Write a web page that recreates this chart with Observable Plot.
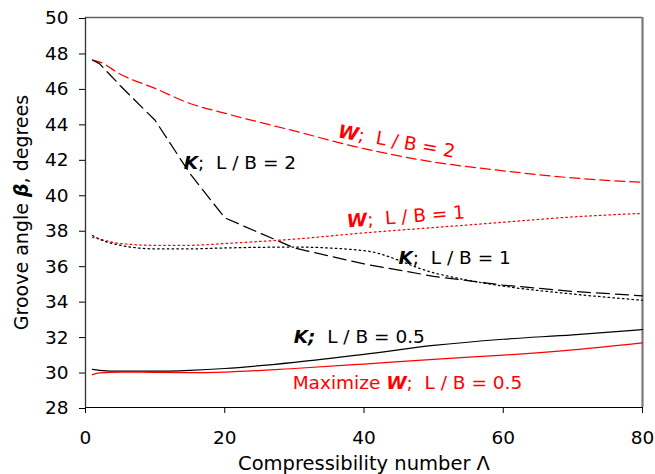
<!DOCTYPE html>
<html>
<head>
<meta charset="utf-8">
<script src="https://cdn.jsdelivr.net/npm/d3@7"></script>
<script src="https://cdn.jsdelivr.net/npm/@observablehq/plot@0.6"></script>
<style>
  body { margin: 0; background: #fff; }
  #chart svg { display: block; }
</style>
</head>
<body>
<div id="chart"></div>
<script>
// Compressibility number Λ at which the optimum groove angle was computed
const lambda = [1, 2, 5, 10, 15, 20, 30, 40, 50, 60, 70, 80];

// Optimum groove angle β (degrees) for each criterion and aspect ratio L/B
const wLB2  = [47.6, 47.5, 46.8, 46.0, 45.15, 44.6, 43.6, 42.6, 41.85, 41.35, 40.95, 40.7];
const kLB2  = [47.6, 47.4, 46.15, 44.2, 41.2, 38.7, 37.0, 36.1, 35.4, 34.9, 34.55, 34.3];
const wLB1  = [37.6, 37.5, 37.25, 37.15, 37.15, 37.25, 37.5, 37.85, 38.15, 38.45, 38.75, 38.95];
const kLB1  = [37.7, 37.5, 37.15, 36.95, 36.95, 37.0, 37.05, 36.85, 35.6, 34.85, 34.4, 34.05];
const kLB05 = [30.15, 30.1, 30.05, 30.05, 30.1, 30.2, 30.55, 31.0, 31.5, 31.85, 32.1, 32.4];
const wLB05 = [29.85, 29.95, 30.0, 29.98, 29.97, 30.0, 30.2, 30.45, 30.72, 30.95, 31.25, 31.65];

// Axis ticks
const xTicks = [0, 20, 40, 60, 80];
const yTicks = [28, 30, 32, 34, 36, 38, 40, 42, 44, 46, 48, 50];

// Curve labels; text between asterisks is set in bold italic
const labelText  = ["*K*;  L / B = 2", "*W*;  L / B = 2", "*W*;  L / B = 1", "*K*;  L / B = 1", "*K;*  L / B = 0.5", "Maximize *W*;  L / B = 0.5"];
const labelX     = [14.1, 36.15, 37.6, 44.95, 29.9, 29.75];
const labelY     = [41.45, 43.25, 38.15, 36.1, 31.62, 29.05];
const labelAngle = [0, 10, -4.5, 0, 0, 0];
const labelColor = ["#000", "#ff0000", "#ff0000", "#000", "#000", "#ff0000"];

const RED = "#ff0000";
const series = [
  {values: wLB2,  stroke: RED,    dash: "10,5",    curve: "monotone-x"},
  {values: kLB2,  stroke: "#000", dash: "13,6",    curve: "linear"},
  {values: wLB1,  stroke: RED,    dash: "1.6,3.2", curve: "monotone-x"},
  {values: kLB1,  stroke: "#000", dash: "1.6,3.2", curve: "monotone-x"},
  {values: kLB05, stroke: "#000", dash: null,      curve: "monotone-x"},
  {values: wLB05, stroke: RED,    dash: null,      curve: "monotone-x"}
];

const labels = labelText.map((text, i) => ({text, x: labelX[i], y: labelY[i], angle: labelAngle[i], color: labelColor[i]}));

const lineMarks = series.map(s =>
  Plot.line(lambda.map((x, i) => ({x, y: s.values[i]})), {
    x: "x", y: "y",
    stroke: s.stroke,
    strokeWidth: 1.25,
    strokeDasharray: s.dash,
    curve: s.curve
  })
);

const chart = Plot.plot({
  width: 655,
  height: 474,
  marginLeft: 85,
  marginRight: 13,
  marginTop: 17,
  marginBottom: 67,
  style: {fontFamily: "'DejaVu Sans', sans-serif", fontSize: "18.5px", background: "#fff", color: "#000"},
  x: {domain: [0, 80]},
  y: {domain: [28, 50]},
  marks: [
    // plot-area border (top and right)
    Plot.ruleY([50], {stroke: "#606060", strokeWidth: 1.5}),
    Plot.ruleX([80], {stroke: "#7a7a7a", strokeWidth: 2.2}),
    // axes
    Plot.axisY({ticks: yTicks, tickSize: 6, tickPadding: 11, label: null, dy: 1}),
    Plot.axisX({ticks: xTicks, tickSize: 6, tickPadding: 17, label: null}),
    Plot.ruleX([0], {stroke: "#333", strokeWidth: 1.3}),
    Plot.ruleY([28], {stroke: "#000"}),
    ...lineMarks,
    Plot.text(labels, {
      x: "x", y: "y", text: "text", fill: "color", rotate: "angle",
      textAnchor: "start", lineAnchor: "bottom"
    }),
    Plot.text(["Compressibility number Λ"], {
      frameAnchor: "bottom", textAnchor: "middle", lineAnchor: "bottom", dy: 62, fontSize: 19.5
    }),
    Plot.text(["Groove angle *β*, degrees"], {
      frameAnchor: "left", textAnchor: "middle", lineAnchor: "bottom",
      rotate: -90, dx: -58, fontSize: 19
    })
  ]
});

// Turn *…* spans into bold italic tspans
chart.querySelectorAll("text").forEach(t => {
  if (t.querySelector("tspan") || !t.textContent.includes("*")) return;
  const parts = t.textContent.split("*");
  t.textContent = "";
  t.setAttribute("xml:space", "preserve");
  t.style.whiteSpace = "pre";
  parts.forEach((p, i) => {
    if (!p) return;
    const ts = document.createElementNS("http://www.w3.org/2000/svg", "tspan");
    ts.textContent = p;
    if (i % 2) {
      ts.setAttribute("font-weight", "bold");
      ts.setAttribute("font-style", "italic");
    }
    t.appendChild(ts);
  });
});

document.getElementById("chart").appendChild(chart);
</script>
</body>
</html>
